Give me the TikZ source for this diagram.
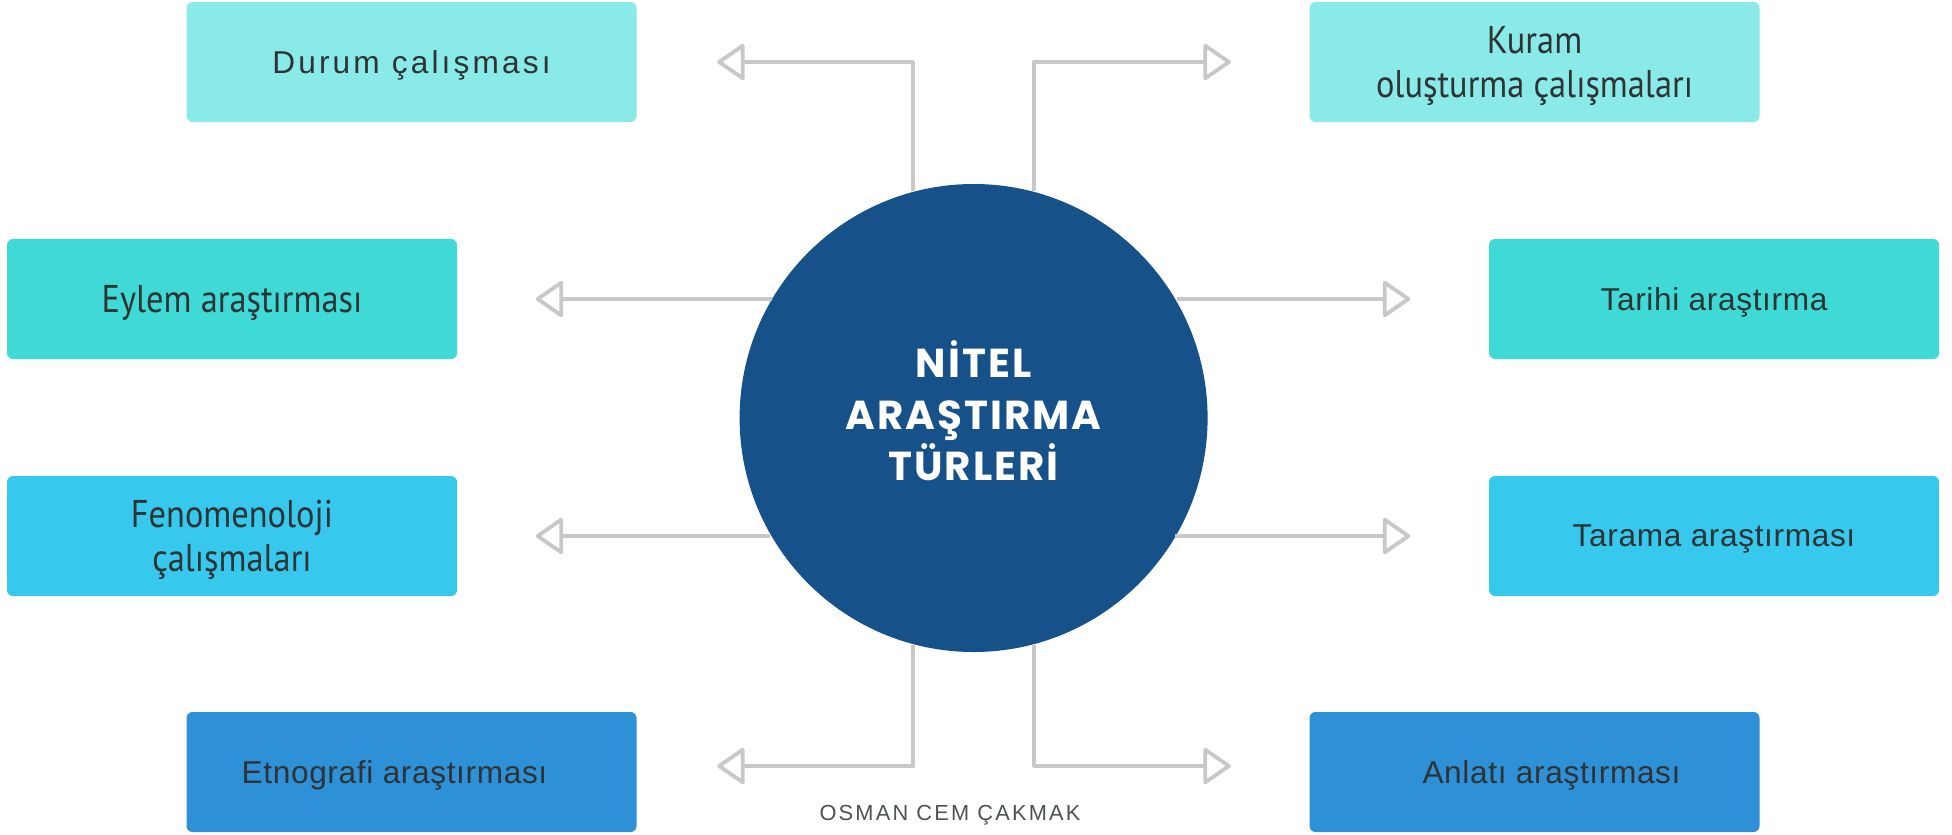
\documentclass[tikz,border=0pt]{standalone}
\usepackage{fontspec}
\usepackage{xcolor}
\usetikzlibrary{arrows.meta}
\setmainfont{Liberation Sans}[LetterSpace=2]
\newfontfamily\widefont{Liberation Sans}[LetterSpace=10]
\newfontfamily\narrowfont{PT Sans}[FakeStretch=0.89]
\newfontfamily\titlefont{Poppins}[LetterSpace=5]
\newfontfamily\signfont{Liberation Sans}[LetterSpace=10]

\definecolor{boxA}{HTML}{8AEAE8}
\definecolor{boxB}{HTML}{3FDAD6}
\definecolor{boxC}{HTML}{37C8EE}
\definecolor{boxD}{HTML}{2E90D6}
\definecolor{hubblue}{HTML}{165289}
\definecolor{conngray}{HTML}{C8C8C8}
\definecolor{textgray}{HTML}{2E3436}

\begin{document}
\begin{tikzpicture}[
    typebox/.style={rectangle, rounded corners=0.6mm, minimum width=4.5cm, minimum height=1.2cm,
        align=center, text=textgray, text depth=0pt, font=\fontsize{9}{12}\selectfont},
    narrowbox/.style={typebox, font=\narrowfont\fontsize{11}{12.5}\selectfont},
    hub/.style={circle, fill=hubblue, minimum size=4.68cm, inner sep=0pt, align=center,
        text=white, text depth=4.2pt, font=\titlefont\bfseries\fontsize{11.5}{14.7}\selectfont},
    conn/.style={draw=conngray, line width=1.1pt, line join=round,
        -{Triangle[open, length=2.9mm, width=3.9mm, line join=round]}}
  ]
            \useasboundingbox (0,0) rectangle (19.52,-8.34);

            % Center
            \node[hub] (hub) at (9.736,-4.18) {NİTEL\\ARAŞTIRMA\\TÜRLERİ};

            % Boxes
            \node[typebox, fill=boxA, font=\widefont\fontsize{9}{12}\selectfont] (durum) at (4.115,-0.62) {Durum çalışması};
            \node[narrowbox, fill=boxA] (kuram) at (15.345,-0.62) {Kuram\\oluşturma çalışmaları};
            \node[narrowbox, fill=boxB] (eylem) at (2.32,-2.99) {Eylem araştırması};
            \node[typebox, fill=boxB] (tarihi) at (17.14,-2.99) {Tarihi araştırma};
            \node[narrowbox, fill=boxC] (fenom) at (2.32,-5.36) {Fenomenoloji\\çalışmaları};
            \node[typebox, fill=boxC] (tarama) at (17.14,-5.36) {Tarama araştırması};
            \node[typebox, fill=boxD] (etno) at (4.115,-7.72) {Etnografi araştırması\kern0.34cm};
            \node[typebox, fill=boxD] (anlati) at (15.345,-7.72) {\kern0.34cm Anlatı araştırması};

            % Arrows
            \draw[conn] (hub.105) |- ([xshift=0.8cm]durum.east);
            \draw[conn] (hub.75) |- ([xshift=-0.78cm]kuram.west);
            \draw[conn] (eylem.east -| hub.149.43) -- ([xshift=0.78cm]eylem.east);
            \draw[conn] (tarihi.west -| hub.30.57) -- ([xshift=-0.78cm]tarihi.west);
            \draw[conn] (fenom.east -| hub.210.29) -- ([xshift=0.78cm]fenom.east);
            \draw[conn] (tarama.west -| hub.329.71) -- ([xshift=-0.78cm]tarama.west);
            \draw[conn] (hub.255) |- ([xshift=0.8cm,yshift=0.06cm]etno.east);
            \draw[conn] (hub.285) |- ([xshift=-0.78cm,yshift=0.06cm]anlati.west);

            % Signature
            \node[text=textgray!85, font=\signfont\fontsize{6.2}{8}\selectfont] (sign) at (9.5,-8.15) {OSMAN CEM ÇAKMAK};
        \end{tikzpicture}
\end{document}
